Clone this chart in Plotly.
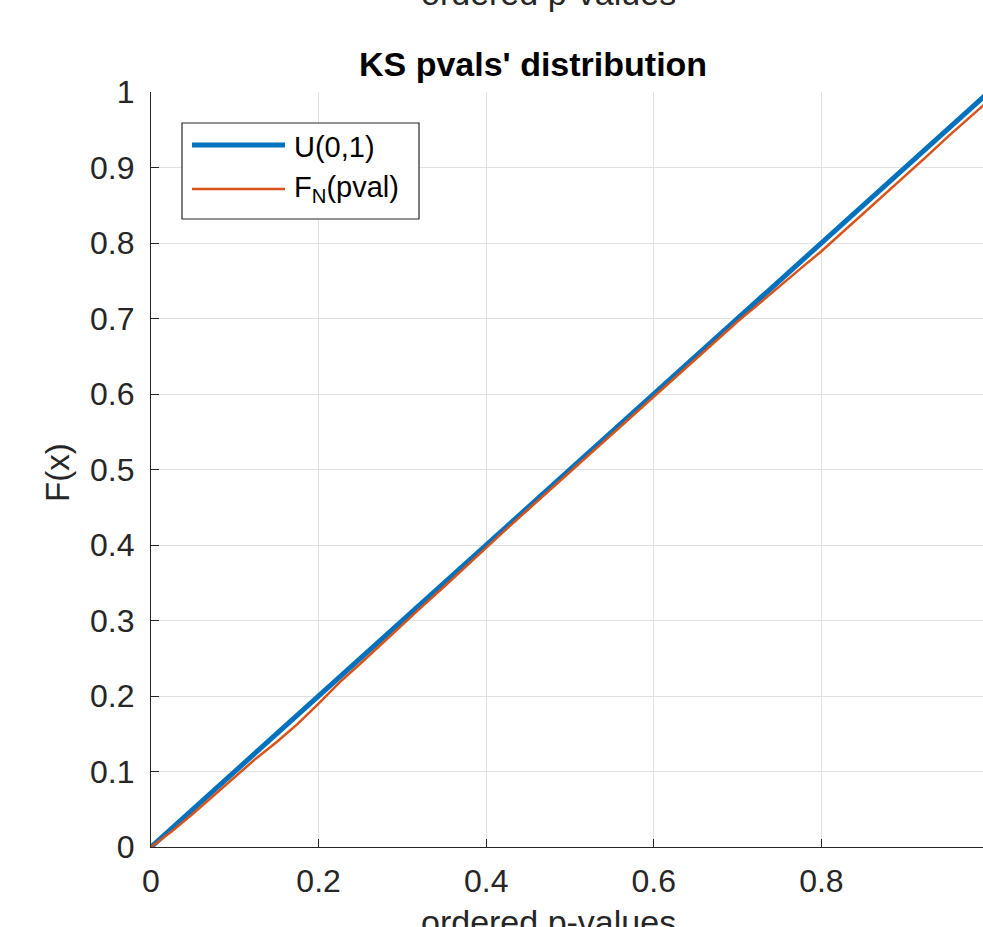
import plotly.graph_objects as go

# ---- data ----
uniform_x = [0, 1]
uniform_y = [0, 1]
pval_x = [0, 0.025, 0.05, 0.075, 0.1, 0.125, 0.15, 0.175, 0.2, 0.225, 0.25, 0.275, 0.3,
          0.325, 0.35, 0.375, 0.4, 0.425, 0.45, 0.475, 0.5, 0.525, 0.55, 0.575, 0.6,
          0.625, 0.65, 0.675, 0.7, 0.725, 0.75, 0.775, 0.8, 0.825, 0.85, 0.875, 0.9,
          0.925, 0.95, 0.975, 1.0]
ecdf_y = [0, 0.021, 0.044, 0.068, 0.092, 0.117, 0.139, 0.163, 0.190, 0.218, 0.243, 0.269,
          0.295, 0.320, 0.345, 0.371, 0.396, 0.422, 0.447, 0.472, 0.497, 0.522, 0.547,
          0.572, 0.597, 0.622, 0.647, 0.672, 0.696, 0.719, 0.743, 0.766, 0.789, 0.814,
          0.839, 0.864, 0.888, 0.914, 0.940, 0.964, 0.989]
x_ticks = [0, 0.2, 0.4, 0.6, 0.8, 1]
x_tick_labels = ["0", "0.2", "0.4", "0.6", "0.8", "1"]
y_ticks = [0, 0.1, 0.2, 0.3, 0.4, 0.5, 0.6, 0.7, 0.8, 0.9, 1]
y_tick_labels = ["0", "0.1", "0.2", "0.3", "0.4", "0.5", "0.6", "0.7", "0.8", "0.9", "1"]
legend_names = ["U(0,1)", "F<sub>N</sub>(pval)"]

BLUE = "#0072BD"
ORANGE = "#D95319"
AX = "#262626"
FONT = "Liberation Sans, Arial, sans-serif"

# the original figure is wider than the picture: its right edge is cut at 983 px
W, H = 989, 927
L, R, T, B = 151, 0, 92, 80
PW, PH = W - L - R, H - T - B


def px(x):
    # page pixel -> paper
    return (x - L) / PW


def py(y):
    return (H - B - y) / PH


fig = go.Figure()
fig.add_trace(go.Scatter(x=uniform_x, y=uniform_y, mode="lines",
                         line=dict(color=BLUE, width=5), name=legend_names[0]))
fig.add_trace(go.Scatter(x=pval_x, y=ecdf_y, mode="lines",
                         line=dict(color=ORANGE, width=2.5), name=legend_names[1]))

fig.update_xaxes(range=[0, 1], tickvals=x_ticks, ticktext=x_tick_labels,
                 showgrid=True, gridcolor="#e0e0e0", gridwidth=1,
                 showline=True, linecolor=AX, linewidth=1.3,
                 ticks="inside", ticklen=8, tickcolor=AX, tickwidth=1.3,
                 tickfont=dict(family=FONT, size=32, color=AX),
                 ticklabelstandoff=5, zeroline=False)
fig.update_yaxes(range=[0, 1], tickvals=y_ticks, ticktext=y_tick_labels,
                 showgrid=True, gridcolor="#e0e0e0", gridwidth=1,
                 showline=True, linecolor=AX, linewidth=1.3,
                 ticks="inside", ticklen=8, tickcolor=AX, tickwidth=1.3,
                 tickfont=dict(family=FONT, size=32, color=AX),
                 ticklabelstandoff=9, zeroline=False)

annotations = [
    dict(text="<b>KS pvals' distribution</b>", x=px(533), y=py(64), xref="paper", yref="paper",
         xanchor="center", yanchor="middle", showarrow=False,
         font=dict(family=FONT, size=34, color="#000000")),
    dict(text="ordered p-values", x=px(548), y=py(-7), xref="paper", yref="paper",
         xanchor="center", yanchor="middle", showarrow=False,
         font=dict(family=FONT, size=34, color=AX)),
    dict(text="ordered p-values", x=px(548), y=py(922), xref="paper", yref="paper",
         xanchor="center", yanchor="middle", showarrow=False,
         font=dict(family=FONT, size=34, color=AX)),
    dict(text="F(x)", x=px(58), y=py(473), xref="paper", yref="paper",
         xanchor="center", yanchor="middle", showarrow=False, textangle=-90,
         font=dict(family=FONT, size=33, color=AX)),
    dict(text=legend_names[0], x=px(292), y=py(147), xref="paper", yref="paper",
         xanchor="left", yanchor="middle", showarrow=False,
         font=dict(family=FONT, size=29, color="#000000")),
    dict(text=legend_names[1], x=px(292), y=py(189), xref="paper", yref="paper",
         xanchor="left", yanchor="middle", showarrow=False,
         font=dict(family=FONT, size=29, color="#000000")),
]

shapes = [
    dict(type="rect", xref="paper", yref="paper", x0=px(182), x1=px(419), y0=py(219), y1=py(123),
         line=dict(color=AX, width=1.2), fillcolor="white", layer="above"),
    dict(type="line", xref="paper", yref="paper", x0=px(192), x1=px(285), y0=py(145), y1=py(145),
         line=dict(color=BLUE, width=5), layer="above"),
    dict(type="line", xref="paper", yref="paper", x0=px(192), x1=px(285), y0=py(189), y1=py(189),
         line=dict(color=ORANGE, width=2.5), layer="above"),
]

fig.update_layout(width=W, height=H, margin=dict(l=L, r=R, t=T, b=B),
                  plot_bgcolor="white", paper_bgcolor="white", showlegend=False,
                  annotations=annotations, shapes=shapes)

fig.write_html("out.html", config={"displayModeBar": False},
               post_script="document.body.style.margin='0';document.body.style.overflow='hidden';")
